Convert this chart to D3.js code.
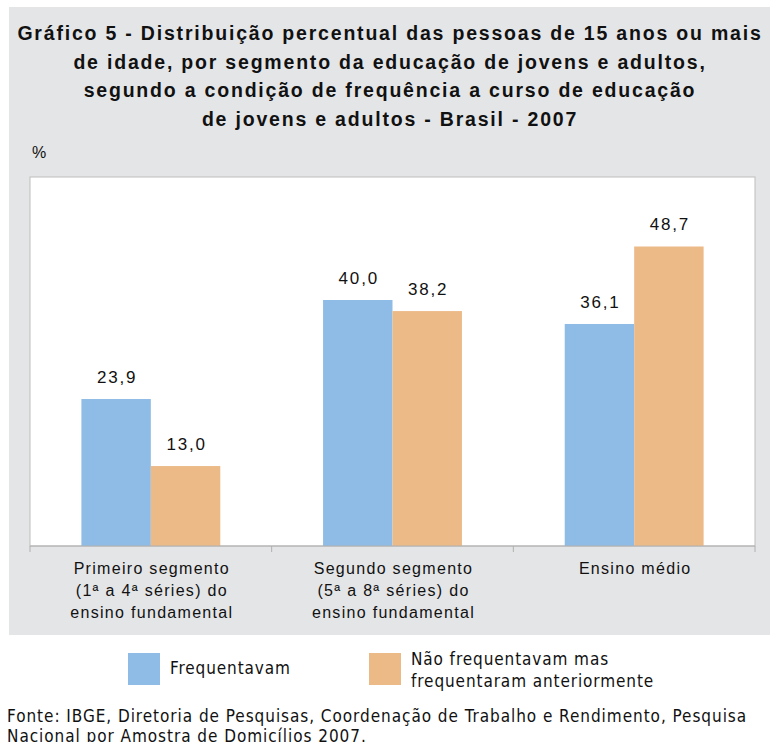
<!DOCTYPE html>
<html>
<head>
<meta charset="utf-8">
<script src="https://cdn.jsdelivr.net/npm/d3@7"></script>
<style>
  body { margin: 0; background: #fff; }
  svg { display: block; font-family: "Liberation Sans", Arial, sans-serif; }
  .narrow { font-family: "DejaVu Sans Condensed", "Liberation Sans Narrow", sans-serif; }
</style>
</head>
<body>
<div class="chart"></div>
<script>
var categories = [
    ['Primeiro segmento', '(1ª a 4ª séries) do', 'ensino fundamental'],
    ['Segundo segmento', '(5ª a 8ª séries) do', 'ensino fundamental'],
    ['Ensino médio']
];
var seriesNames = ['Frequentavam', 'Não frequentavam mas frequentaram anteriormente'];
var frequentavam = [23.9, 40.0, 36.1];
var naoFrequentavam = [13.0, 38.2, 48.7];
var titleLines = [
    'Gráfico 5 - Distribuição percentual das pessoas de 15 anos ou mais',
    'de idade, por segmento da educação de jovens e adultos,',
    'segundo a condição de frequência a curso de educação',
    'de jovens e adultos - Brasil - 2007'
];
var sourceLines = [
    'Fonte: IBGE, Diretoria de Pesquisas, Coordenação de Trabalho e Rendimento, Pesquisa',
    'Nacional por Amostra de Domicílios 2007.'
];
var colors = ['#8fbce6', '#ecba87'];

var W = 770, H = 742;
var margin = { top: 177, right: 15, bottom: 196, left: 30 };
var width = W - margin.left - margin.right;
var height = H - margin.top - margin.bottom;

var svg = d3.select('.chart')
    .append('svg')
    .attr('width', W)
    .attr('height', H);

// grey panel
svg.append('rect')
    .attr('x', 9).attr('y', 7)
    .attr('width', W - 9).attr('height', 628)
    .attr('fill', '#e4e5e7');

svg.append('g')
    .selectAll('text')
    .data(titleLines)
    .enter()
    .append('text')
    .attr('x', 390)
    .attr('y', (d, i) => 40 + i * 28.7)
    .attr('text-anchor', 'middle')
    .style('font-weight', 'bold')
    .style('font-size', '19.5px')
    .style('letter-spacing', '1.8px')
    .style('fill', '#111')
    .text(d => d);

svg.append('text')
    .attr('x', 32).attr('y', 158)
    .style('font-size', '16px')
    .style('fill', '#111')
    .text('%');

var g = svg.append('g')
    .attr('transform', `translate(${margin.left}, ${margin.top})`);

g.append('rect')
    .attr('width', width).attr('height', height)
    .attr('fill', '#fff')
    .attr('stroke', '#bdbdbd')
    .attr('stroke-width', 1);

var idx = d3.range(categories.length);
var xScale = d3.scaleBand()
    .domain(idx)
    .range([0, width]);

var xSub = d3.scaleBand()
    .domain([0, 1])
    .range([0, xScale.bandwidth()])
    .paddingOuter(0.74)
    .paddingInner(0);

var yScale = d3.scaleLinear()
    .domain([0, 60])
    .range([height, 0]);

var data = idx.map(i => [frequentavam[i], naoFrequentavam[i]]);

var groups = g.selectAll('.grp')
    .data(data)
    .enter()
    .append('g')
    .attr('class', 'grp')
    .attr('transform', (d, i) => `translate(${xScale(i)}, 0)`);

groups.selectAll('rect')
    .data(d => d)
    .enter()
    .append('rect')
    .attr('x', (d, j) => xSub(j))
    .attr('y', d => yScale(d))
    .attr('width', xSub.bandwidth())
    .attr('height', d => height - yScale(d))
    .attr('fill', (d, j) => colors[j]);

groups.selectAll('.val')
    .data(d => d)
    .enter()
    .append('text')
    .attr('class', 'val')
    .attr('x', (d, j) => xSub(j) + xSub.bandwidth() / 2 + 1)
    .attr('y', d => yScale(d) - 16)
    .attr('text-anchor', 'middle')
    .style('font-size', '17px')
    .style('letter-spacing', '1.8px')
    .style('fill', '#111')
    .text(d => d3.format('.1f')(d).replace('.', ','));

// baseline with ticks at band edges
var ax = g.append('g')
    .attr('transform', `translate(0, ${height})`);
ax.append('line')
    .attr('x1', 0).attr('x2', width)
    .attr('stroke', '#b0b0b0');
ax.selectAll('.tk')
    .data(idx.concat([categories.length]))
    .enter()
    .append('line')
    .attr('x1', d => d < categories.length ? xScale(d) : width)
    .attr('x2', d => d < categories.length ? xScale(d) : width)
    .attr('y1', 0).attr('y2', 6)
    .attr('stroke', '#b0b0b0');

var catLabels = ax.selectAll('.cat')
    .data(categories)
    .enter()
    .append('text')
    .attr('class', 'cat')
    .attr('text-anchor', 'middle')
    .style('font-size', '16px')
    .style('letter-spacing', '1.3px')
    .style('fill', '#111');
catLabels.selectAll('tspan')
    .data((d, i) => d.map(t => ({ t: t, i: i })))
    .enter()
    .append('tspan')
    .attr('x', d => xScale(d.i) + xScale.bandwidth() / 2 + 1)
    .attr('y', (d, k) => 28 + k * 22)
    .text(d => d.t);

// legend
var legend = svg.append('g');
var legX = [128, 369];
legend.selectAll('rect')
    .data(seriesNames)
    .enter()
    .append('rect')
    .attr('x', (d, i) => legX[i])
    .attr('y', 653)
    .attr('width', 32).attr('height', 32)
    .attr('fill', (d, i) => colors[i]);

legend.append('text')
    .attr('class', 'narrow')
    .attr('x', 170).attr('y', 674)
    .style('font-size', '17px')
    .style('letter-spacing', '0.9px')
    .style('fill', '#111')
    .text(seriesNames[0]);

var l2 = legend.append('text')
    .attr('class', 'narrow')
    .style('font-size', '17px')
    .style('letter-spacing', '0.9px')
    .style('fill', '#111');
l2.append('tspan').attr('x', 411).attr('y', 665).text('Não frequentavam mas');
l2.append('tspan').attr('x', 411).attr('y', 687).text('frequentaram anteriormente');

svg.append('g')
    .selectAll('text')
    .data(sourceLines)
    .enter()
    .append('text')
    .attr('class', 'narrow')
    .attr('x', 7)
    .attr('y', (d, i) => 722 + i * 20)
    .style('font-size', '17px')
    .style('letter-spacing', '0.95px')
    .style('fill', '#111')
    .text(d => d);
</script>
</body>
</html>
